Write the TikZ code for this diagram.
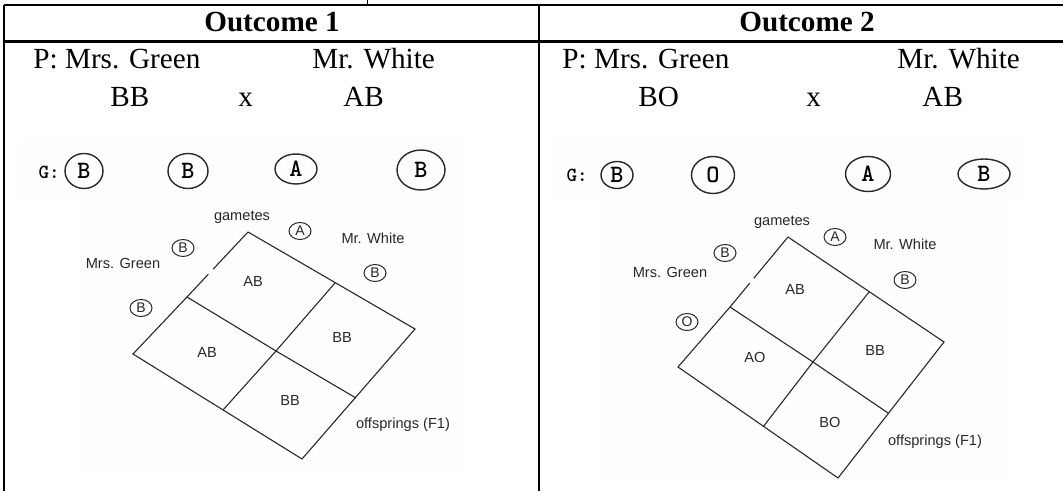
\documentclass[tikz,border=0pt]{standalone}
\usepackage{fontspec}
\setmainfont{Liberation Serif}
\newfontfamily\arialf{Liberation Sans}
\usetikzlibrary{calc,shapes.geometric}
\definecolor{imgbg}{RGB}{254,254,254}
\definecolor{ink}{RGB}{40,40,40}
\tikzset{
  border/.style={line width=1.3pt, black},
  body/.style={font=\fontsize{14.6pt}{16pt}\selectfont, inner sep=0pt, anchor=base west},
  head/.style={font=\fontsize{14.6pt}{16pt}\selectfont\bfseries, inner sep=0pt, anchor=base},
  gtext/.style={font=\ttfamily\bfseries\fontsize{10pt}{11pt}\selectfont, inner sep=0pt},
  gcirc/.style={ellipse, draw=ink, line width=0.7pt, inner sep=0pt, font=\ttfamily\bfseries\fontsize{12.5pt}{13pt}\selectfont},
  small/.style={font=\arialf\fontsize{7.3pt}{8pt}\selectfont, inner sep=0pt, text=ink},
  scirc/.style={ellipse, draw=ink, line width=0.5pt, inner sep=0pt, minimum width=11pt, minimum height=8.5pt, font=\arialf\fontsize{7pt}{8pt}\selectfont, text=ink},
  grid/.style={line width=0.55pt, ink},
  imgbox/.style={fill=imgbg, draw=none}
}
\begin{document}
\begin{tikzpicture}[x=0.5pt, y=-0.5pt]
\useasboundingbox (0,0) rectangle (1063,491);
% faint backgrounds of pasted images
\path[imgbox] (17,138) rectangle (465,200);
\path[imgbox] (77,200) rectangle (465,470);
\path[imgbox] (550,138) rectangle (1027,200);
\path[imgbox] (600,200) rectangle (1010,478);
% table
\coordinate (tl) at (4,5);
\coordinate (tr) at (1063,5);
\coordinate (hl) at (4,41.5);
\coordinate (hr) at (1063,41.5);
\coordinate (bl) at (4,491);
\coordinate (dt) at (539,5);
\coordinate (db) at (539,491);
\coordinate (tick0) at (367,0);
\coordinate (tick1) at (367,5);
\draw[line width=0.5pt] (tick0) -- (tick1);
\draw[border] (tl) -- (tr);
\draw[border] (hl) -- (hr);
\draw[border] (tl) -- (bl);
\draw[border] (dt) -- (db);
\node[head] (h1) at (272,32) {Outcome 1};
\node[head] (h2) at (807,32) {Outcome 2};
% ---------- Outcome 1 text ----------
\node[body] (p1) at (33,69) {P: Mrs. Green};
\node[body] (w1) at (312,69) {Mr. White};
\node[body] (g1) at (110,107) {BB};
\node[body] (x1) at (238,107) {x};
\node[body] (a1) at (343,107) {AB};
% G row 1
\node[gtext] (G1) at (49,172) {G:};
\node[gcirc, minimum width=19pt, minimum height=17.5pt] (c11) at (84,171) {B};
\node[gcirc, minimum width=20pt, minimum height=17.5pt] (c12) at (188,171) {B};
\node[gcirc, minimum width=21pt, minimum height=15pt] (c13) at (296,169) {A};
\node[gcirc, minimum width=24pt, minimum height=20pt] (c14) at (421,170) {B};
% Punnett 1
\coordinate (T1) at (248,232);
\coordinate (R1) at (415,329);
\coordinate (B1) at (302,459);
\coordinate (L1) at (133,354);
\coordinate (TR1) at (335,283);
\coordinate (TL1) at (187,297);
\coordinate (C1) at (276,351);
\coordinate (BR1) at (356,398);
\coordinate (BL1) at (223,410);
\draw[grid] (T1) -- ($(T1)!0.57!(TL1)$);
\draw[grid] ($(T1)!0.65!(TL1)$) -- (TL1) -- (L1) -- (B1) -- (R1) -- (T1);
\draw[grid] (TL1) -- (C1) -- (BR1);
\draw[grid] (TR1) -- (C1) -- (BL1);
\node[small] (gm1) at (242,217) {gametes};
\node[scirc] (sa1) at (300,231) {A};
\node[small] (mw1) at (373,238) {Mr. White};
\node[scirc] (sb1) at (183,248) {B};
\node[small] (mg1) at (123,263) {Mrs. Green};
\node[scirc] (sb2) at (375,273) {B};
\node[scirc] (sb3) at (141,308) {B};
\node[small] (k11) at (253,281) {AB};
\node[small] (k12) at (207,352) {AB};
\node[small] (k13) at (342,337) {BB};
\node[small] (k14) at (290,400) {BB};
\node[small] (of1) at (403,425) {offsprings (F1)};
% ---------- Outcome 2 text ----------
\node[body] (p2) at (562,69) {P: Mrs. Green};
\node[body] (w2) at (897,69) {Mr. White};
\node[body] (g2) at (638,107) {BO};
\node[body] (x2) at (806,107) {x};
\node[body] (a2) at (922,107) {AB};
% G row 2
\node[gtext] (G2) at (577,175) {G:};
\node[gcirc, minimum width=16pt, minimum height=13.5pt] (c21) at (617,175) {B};
\node[gcirc, minimum width=21.5pt, minimum height=18.5pt] (c22) at (713,175) {O};
\node[gcirc, minimum width=22.5pt, minimum height=17.5pt] (c23) at (868,174) {A};
\node[gcirc, minimum width=26pt, minimum height=15pt] (c24) at (984,174) {B};
% Punnett 2
\coordinate (T2) at (788,237);
\coordinate (R2) at (944,342);
\coordinate (B2) at (838,478);
\coordinate (L2) at (678,367);
\coordinate (TR2) at (869,292);
\coordinate (TL2) at (730,307);
\coordinate (C2) at (813,362);
\coordinate (BR2) at (888,413);
\coordinate (BL2) at (763,427);
\draw[grid] (T2) -- ($(T2)!0.59!(TL2)$);
\draw[grid] ($(T2)!0.66!(TL2)$) -- (TL2) -- (L2) -- (B2) -- (R2) -- (T2);
\draw[grid] (TL2) -- (C2) -- (BR2);
\draw[grid] (TR2) -- (C2) -- (BL2);
\node[small] (gm2) at (782,222) {gametes};
\node[scirc] (sa2) at (835,237) {A};
\node[small] (mw2) at (905,244) {Mr. White};
\node[scirc] (sb21) at (725,253) {B};
\node[small] (mg2) at (670,272) {Mrs. Green};
\node[scirc] (sb22) at (905,280) {B};
\node[scirc] (so2) at (687,322) {O};
\node[small] (k21) at (795,289) {AB};
\node[small] (k22) at (755,357) {AO};
\node[small] (k23) at (875,350) {BB};
\node[small] (k24) at (830,422) {BO};
\node[small] (of2) at (935,442) {offsprings (F1)};
\end{tikzpicture}
\end{document}
